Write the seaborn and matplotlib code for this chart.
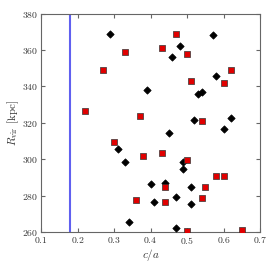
import seaborn as sns
import matplotlib.pyplot as plt

# black diamonds
black_ca = [0.29, 0.39, 0.57, 0.48, 0.46, 0.58, 0.54, 0.53, 0.52, 0.62, 0.60, 0.45,
            0.31, 0.33, 0.49, 0.49, 0.40, 0.44, 0.51, 0.47, 0.41, 0.51, 0.34, 0.47]
black_rvir = [369.0, 337.8, 368.1, 362.0, 356.0, 345.8, 337.0, 335.9, 321.8, 322.7, 316.6, 314.7,
              305.6, 298.5, 298.5, 294.6, 286.6, 286.7, 284.5, 279.4, 276.6, 275.5, 265.4, 262.3]

# red squares
red_ca = [0.33, 0.27, 0.22, 0.37, 0.47, 0.43, 0.50, 0.62, 0.51, 0.60, 0.54,
          0.30, 0.38, 0.36, 0.43, 0.50, 0.58, 0.60, 0.44, 0.55, 0.54, 0.44, 0.50, 0.65]
red_rvir = [358.9, 348.8, 326.8, 323.6, 369.0, 360.9, 358.0, 349.0, 342.9, 341.8, 321.0,
            309.7, 301.6, 277.4, 303.6, 299.6, 290.6, 290.6, 284.5, 284.5, 278.5, 276.6, 260.5, 261.4]

vline_x = 0.18

sns.set_style('ticks')
plt.rcParams['font.family'] = 'serif'
plt.rcParams['font.serif'] = ['cmr10', 'DejaVu Serif']
plt.rcParams['mathtext.fontset'] = 'cm'
plt.rcParams['axes.formatter.use_mathtext'] = True

fig = plt.figure(figsize=(2.74, 2.74), dpi=100)
ax = fig.add_axes([0.150, 0.153, 0.799, 0.797])

ax.axvline(vline_x, color='#6060f0', lw=1.5, zorder=1)
sns.scatterplot(x=black_ca, y=black_rvir, marker='D', s=14, color='black',
                edgecolor='black', linewidth=0.5, ax=ax, zorder=3)
sns.scatterplot(x=red_ca, y=red_rvir, marker='s', s=17, color='#e00000',
                edgecolor='#333333', linewidth=0.5, ax=ax, zorder=3)

ax.set_xlim(0.1, 0.7)
ax.set_ylim(260, 380)
ax.set_xticks([0.1, 0.2, 0.3, 0.4, 0.5, 0.6, 0.7])
ax.set_yticks([260, 280, 300, 320, 340, 360, 380])
ax.tick_params(direction='in', top=True, right=True, labelsize=7, length=3, pad=2,
               color='#666666', labelcolor='#333333', width=0.8)
for s in ax.spines.values():
    s.set_color('#666666')
    s.set_linewidth(0.8)
ax.set_xlabel(r'$c/a$', fontsize=8, color='#333333', labelpad=1)
ax.set_ylabel(r'$R_{\rm vir}$ [kpc]', fontsize=8, color='#333333', labelpad=1)

fig.savefig('out.png', dpi=100)
